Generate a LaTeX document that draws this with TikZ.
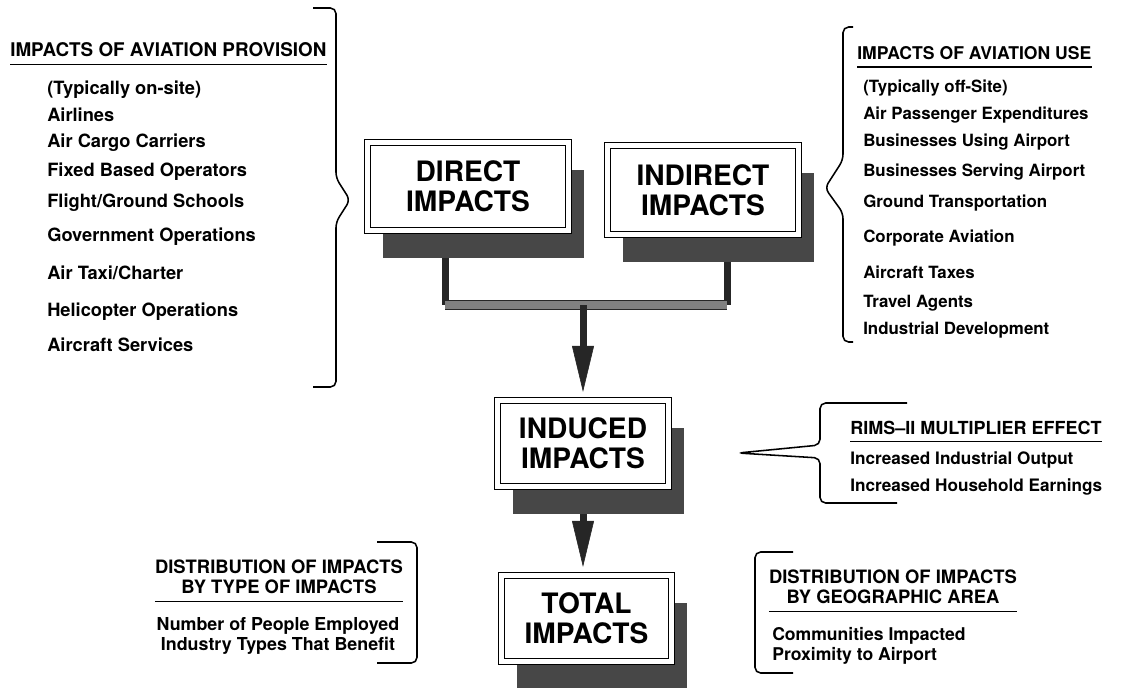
\documentclass[tikz,border=0pt]{standalone}
\usepackage{fontspec}
\setmainfont{TeX Gyre Heros}
\usepackage{tikz}
\usetikzlibrary{arrows, arrows.meta}
\usetikzlibrary{backgrounds,shadows,calc,positioning}
\tikzstyle{stem}=[line width=0.175cm, black!85]
\tikzstyle{bar}=[line width=1pt, black!85, double=black!50, double distance=0.18cm]
\tikzstyle{flow}=[line width=0.175cm, black!85, -{Triangle[width=0.55cm,length=1.15cm,line width=0.4pt]}, shorten >=0.2cm]
\tikzstyle{rule}=[line width=0.9pt]
\tikzstyle{brace}=[line width=1.1pt, rounded corners=4pt]
\tikzset{
    impact/.style={
         draw, fill=white, line width=0.9pt, double, double distance=0.125cm,
         align=center, inner sep=0pt,
         font=\fontsize{20}{21.5}\selectfont\bfseries,
         drop shadow={shadow xshift=0.39cm, shadow yshift=-0.69cm, fill=black!72, opacity=1}
    },
    item/.style={anchor=west, inner sep=0pt, font=\fontsize{#1}{14}\selectfont\bfseries},
    item/.default=12,
    head/.style={inner sep=0pt, font=\fontsize{#1}{14.5}\selectfont\bfseries},
    head/.default=12.5
}
\begin{document}
\begin{tikzpicture}[x=0.025cm, y=-0.025cm]
 \useasboundingbox (0,0) rectangle (1140,687);

      % the four impact boxes
      \node [impact, minimum width=5.025cm, minimum height=2.2cm] (direct) at (468,186.5) {DIRECT\\IMPACTS};
      \node [impact, minimum width=4.775cm, minimum height=2.225cm] (indirect) at (703,190) {INDIRECT\\IMPACTS};
      \node [impact, minimum width=4.275cm, minimum height=2.15cm] (induced) at (583,443.5) {INDUCED\\IMPACTS};
      \node [impact, minimum width=4.25cm, minimum height=2.15cm] (total) at (586.5,618.5) {TOTAL\\IMPACTS};

      % provision (left)
      \node [head=13.4, anchor=west] (hprov) at (10,50) {IMPACTS OF AVIATION PROVISION};
      \node [item=13] (p0) at (47,90) {(Typically on-site)};
      \node [item=13] (p1) at (47,115) {Airlines};
      \node [item=13] (p2) at (47,143) {Air Cargo Carriers};
      \node [item=13] (p3) at (47,172) {Fixed Based Operators};
      \node [item=13] (p4) at (47,203) {Flight/Ground Schools};
      \node [item=13] (p5) at (47,237) {Government Operations};
      \node [item=13] (p6) at (47,273) {Air Taxi/Charter};
      \node [item=13] (p7) at (47,312) {Helicopter Operations};
      \node [item=13] (p8) at (47,345) {Aircraft Services};

      % use (right)
      \node [head, anchor=west] (huse) at (857,53) {IMPACTS OF AVIATION USE};
      \node [item] (u0) at (863,88) {(Typically off-Site)};
      \node [item] (u1) at (863,115) {Air Passenger Expenditures};
      \node [item] (u2) at (863,142) {Businesses Using Airport};
      \node [item] (u3) at (863,172) {Businesses Serving Airport};
      \node [item] (u4) at (863,203) {Ground Transportation};
      \node [item] (u5) at (863,238) {Corporate Aviation};
      \node [item] (u6) at (863,272) {Aircraft Taxes};
      \node [item] (u7) at (863,303) {Travel Agents};
      \node [item] (u8) at (863,330) {Industrial Development};

      % multiplier
      \node [head=12.8, anchor=west] (hrims) at (850,428) {RIMS--II MULTIPLIER EFFECT};
      \node [item=12.2] (r1) at (850,460) {Increased Industrial Output};
      \node [item=12.2] (r2) at (850,487) {Increased Household Earnings};

      % distribution by type
      \node [head=13.1, align=center] (htype) at (279,577) {DISTRIBUTION OF IMPACTS\\BY TYPE OF IMPACTS};
      \node [item=12.7, anchor=center, align=center] (t1) at (278,636) {Number of People Employed\\Industry Types That Benefit};

      % distribution by area
      \node [head=13.1, align=center] (harea) at (893,587) {DISTRIBUTION OF IMPACTS\\BY GEOGRAPHIC AREA};
      \node [item=12.5, align=left] (a1) at (772,646) {Communities Impacted\\Proximity to Airport};

      % underlines
      \draw [rule] ([yshift=-5pt]hprov.south west) -- ([yshift=-5pt]hprov.south east);
      \draw [rule] ([yshift=-5pt]huse.south west) -- ([yshift=-5pt]huse.south east);
      \draw [rule] ([yshift=-4.5pt]hrims.south west) -- ([yshift=-4.5pt]hrims.south east);
      \draw [rule] ([yshift=-5pt]htype.south west) -- ([yshift=-5pt]htype.south east);
      \draw [rule] ([yshift=-5pt]harea.south west) -- ([yshift=-5pt]harea.south east);

      % brackets
      \draw [brace] (313,8) -- (336,8) -- (336,178) -- (350,200) -- (336,222) -- (336,387) -- (313,387);
      \draw [brace] (853,27) -- (843,27) -- (843,160) -- (825,188) -- (843,213) -- (843,342) -- (853,342);
      \draw [brace] (907,403) -- (820,403) -- (820,445) -- (738,453) -- (820,458) -- (820,503) -- (897,503);
      \draw [brace] (377,542) -- (417,542) -- (417,663) -- (377,663);
      \draw [brace] (793,552) -- (755,552) -- (755,673) -- (793,673);

  \begin{scope}[on background layer]
    \coordinate (dfoot) at (445,305);
    \coordinate (ifoot) at (727,305);
    \coordinate (fork) at (induced.north |- dfoot);
    \draw [stem] (direct.south -| dfoot) -- (dfoot);
    \draw [stem] (indirect.south -| ifoot) -- (ifoot);
    \draw [bar] (dfoot) -- (ifoot);
    \draw [flow] (fork) -- (induced.north);
    \draw [flow] (induced.south) -- (induced.south |- total.north);
  \end{scope}

\end{tikzpicture}
\end{document}
